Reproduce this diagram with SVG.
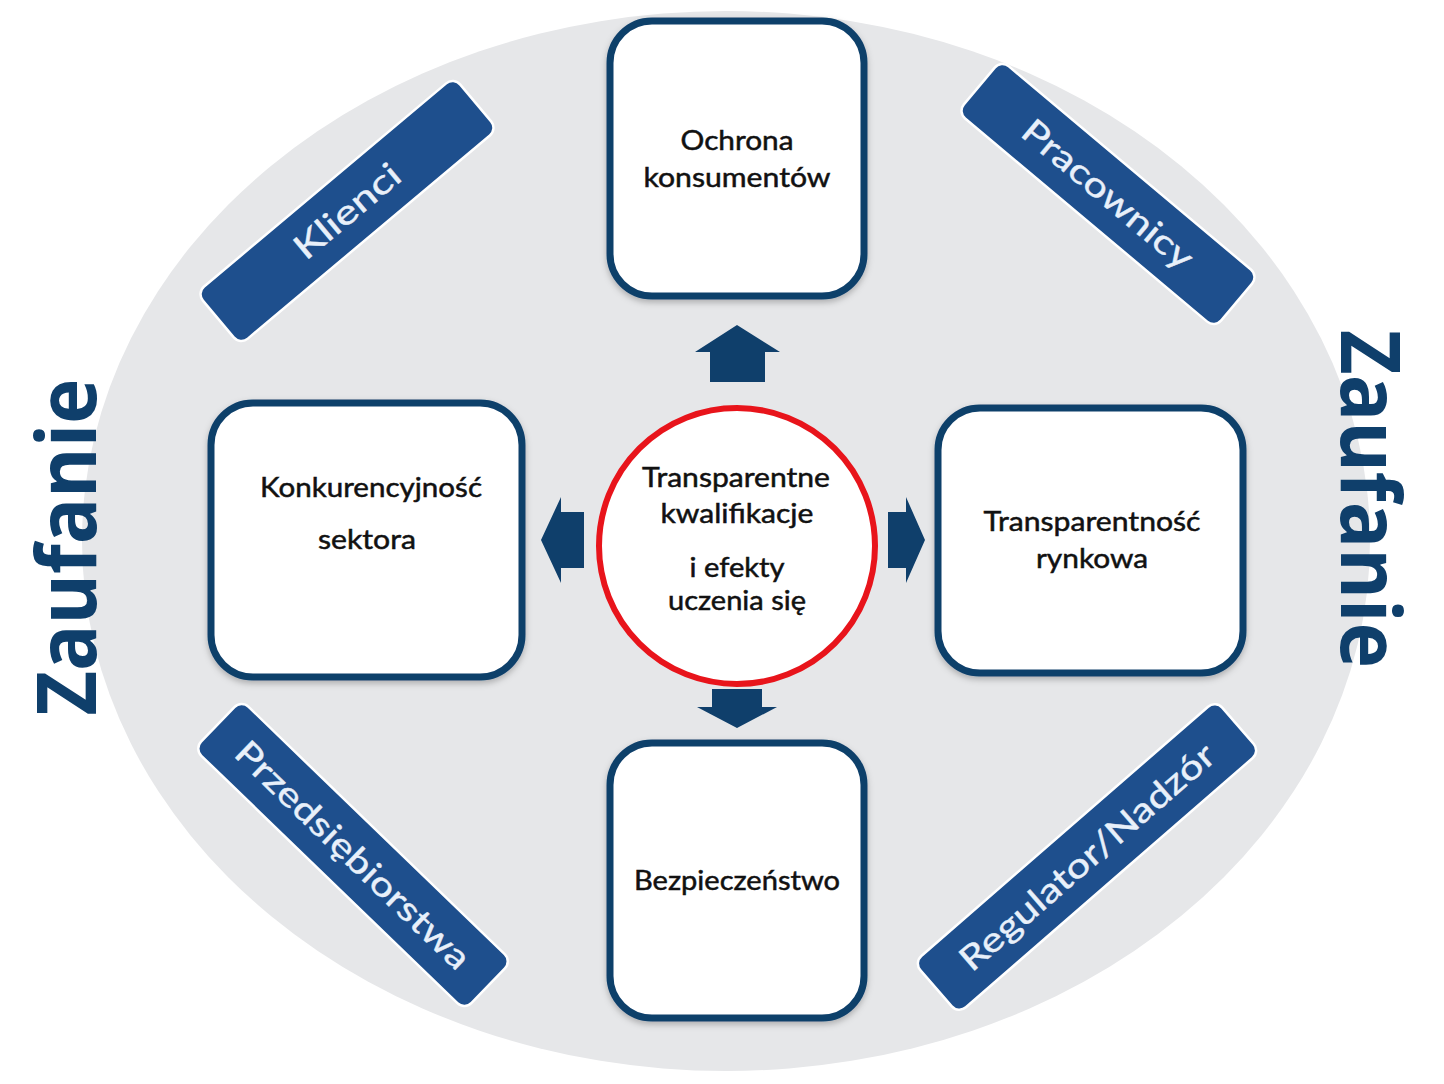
<svg xmlns="http://www.w3.org/2000/svg" width="1444" height="1084" viewBox="0 0 1444 1084">
<defs>
<style>
.box{fill:#ffffff;stroke:#0f3f6b;stroke-width:7}
.lbl{fill:#1e4f8d;stroke:#ffffff;stroke-width:2.5}
.lt{font-family:Lato,"Open Sans","Liberation Sans",sans-serif;font-size:34px;fill:#e8f0fa;stroke:#e8f0fa;stroke-width:0.4;text-anchor:middle}
.bt{font-family:Lato,"Open Sans","Liberation Sans",sans-serif;font-size:27px;fill:#111111;stroke:#111111;stroke-width:0.5;text-anchor:middle}
.z{font-family:"Open Sans","Liberation Sans",sans-serif;font-weight:bold;font-size:82px;fill:#0f3f6b;text-anchor:middle}
.arr{fill:#0f3f6b}
</style>
<filter id="sh" x="-10%" y="-10%" width="120%" height="120%">
<feDropShadow dx="0" dy="3" stdDeviation="3" flood-color="#000" flood-opacity="0.25"/>
</filter>
</defs>
<rect width="1444" height="1084" fill="#ffffff"/>
<ellipse id="background" cx="726" cy="541" rx="644" ry="530" fill="#e6e7e9"/>

<g id="zaufanie-left"><text class="z" transform="translate(96,547) rotate(-90)" textLength="337" lengthAdjust="spacingAndGlyphs">Zaufanie</text></g>
<g id="zaufanie-right"><text class="z" transform="translate(1341,499) rotate(90)" textLength="338" lengthAdjust="spacingAndGlyphs">Zaufanie</text></g>

<g id="klienci" transform="translate(347,211) rotate(-40)">
<rect class="lbl" x="-168" y="-34" width="336" height="68" rx="10"/>
<text class="lt" y="12" textLength="128" lengthAdjust="spacingAndGlyphs">Klienci</text>
</g>
<g id="pracownicy" transform="translate(1108,194) rotate(40)">
<rect class="lbl" x="-168" y="-34" width="336" height="68" rx="10"/>
<text class="lt" y="12" textLength="212" lengthAdjust="spacingAndGlyphs">Pracownicy</text>
</g>
<g id="przedsiebiorstwa" transform="translate(353,855) rotate(44)">
<rect class="lbl" x="-188" y="-34" width="376" height="68" rx="10"/>
<text class="lt" y="12" textLength="312" lengthAdjust="spacingAndGlyphs">Przedsiębiorstwa</text>
</g>
<g id="regulator" transform="translate(1087,857) rotate(-41)">
<rect class="lbl" x="-200" y="-34" width="400" height="68" rx="10"/>
<text class="lt" y="12" textLength="326" lengthAdjust="spacingAndGlyphs">Regulator/Nadzór</text>
</g>

<g id="ochrona">
<rect class="box" filter="url(#sh)" x="610" y="21" width="254" height="275" rx="42"/>
<text class="bt" x="737" y="150" textLength="113" lengthAdjust="spacingAndGlyphs">Ochrona</text>
<text class="bt" x="737" y="187" textLength="187" lengthAdjust="spacingAndGlyphs">konsumentów</text>
</g>
<g id="konkurencyjnosc">
<rect class="box" filter="url(#sh)" x="211" y="403" width="311" height="274" rx="42"/>
<text class="bt" x="371" y="497" textLength="222" lengthAdjust="spacingAndGlyphs">Konkurencyjność</text>
<text class="bt" x="367" y="549" textLength="98" lengthAdjust="spacingAndGlyphs">sektora</text>
</g>
<g id="transparentnosc">
<rect class="box" filter="url(#sh)" x="938" y="408" width="305" height="265" rx="42"/>
<text class="bt" x="1092" y="531" textLength="217" lengthAdjust="spacingAndGlyphs">Transparentność</text>
<text class="bt" x="1092" y="568" textLength="112" lengthAdjust="spacingAndGlyphs">rynkowa</text>
</g>
<g id="bezpieczenstwo">
<rect class="box" filter="url(#sh)" x="610" y="743" width="254" height="275" rx="42"/>
<text class="bt" x="737" y="890" textLength="206" lengthAdjust="spacingAndGlyphs">Bezpieczeństwo</text>
</g>

<g id="center">
<circle cx="737" cy="546" r="138" fill="#ffffff" stroke="#e8141b" stroke-width="6"/>
<text class="bt" x="736" y="487" textLength="188" lengthAdjust="spacingAndGlyphs">Transparentne</text>
<text class="bt" x="737" y="523" textLength="153" lengthAdjust="spacingAndGlyphs">kwalifikacje</text>
<text class="bt" x="737" y="577" textLength="95" lengthAdjust="spacingAndGlyphs">i efekty</text>
<text class="bt" x="737" y="610" textLength="138" lengthAdjust="spacingAndGlyphs">uczenia się</text>
</g>

<g id="connectors">
<polygon class="arr" points="737,325 780,352 765,352 765,382 710,382 710,352 695,352"/>
<polygon class="arr" points="712,689 762,689 762,707 777,707 737,728 697,707 712,707"/>
<polygon class="arr" points="541,540 561,497 561,512 584,512 584,568 561,568 561,583"/>
<polygon class="arr" points="925,540 906,497 906,512 888,512 888,568 906,568 906,583"/>
</g>
</svg>
